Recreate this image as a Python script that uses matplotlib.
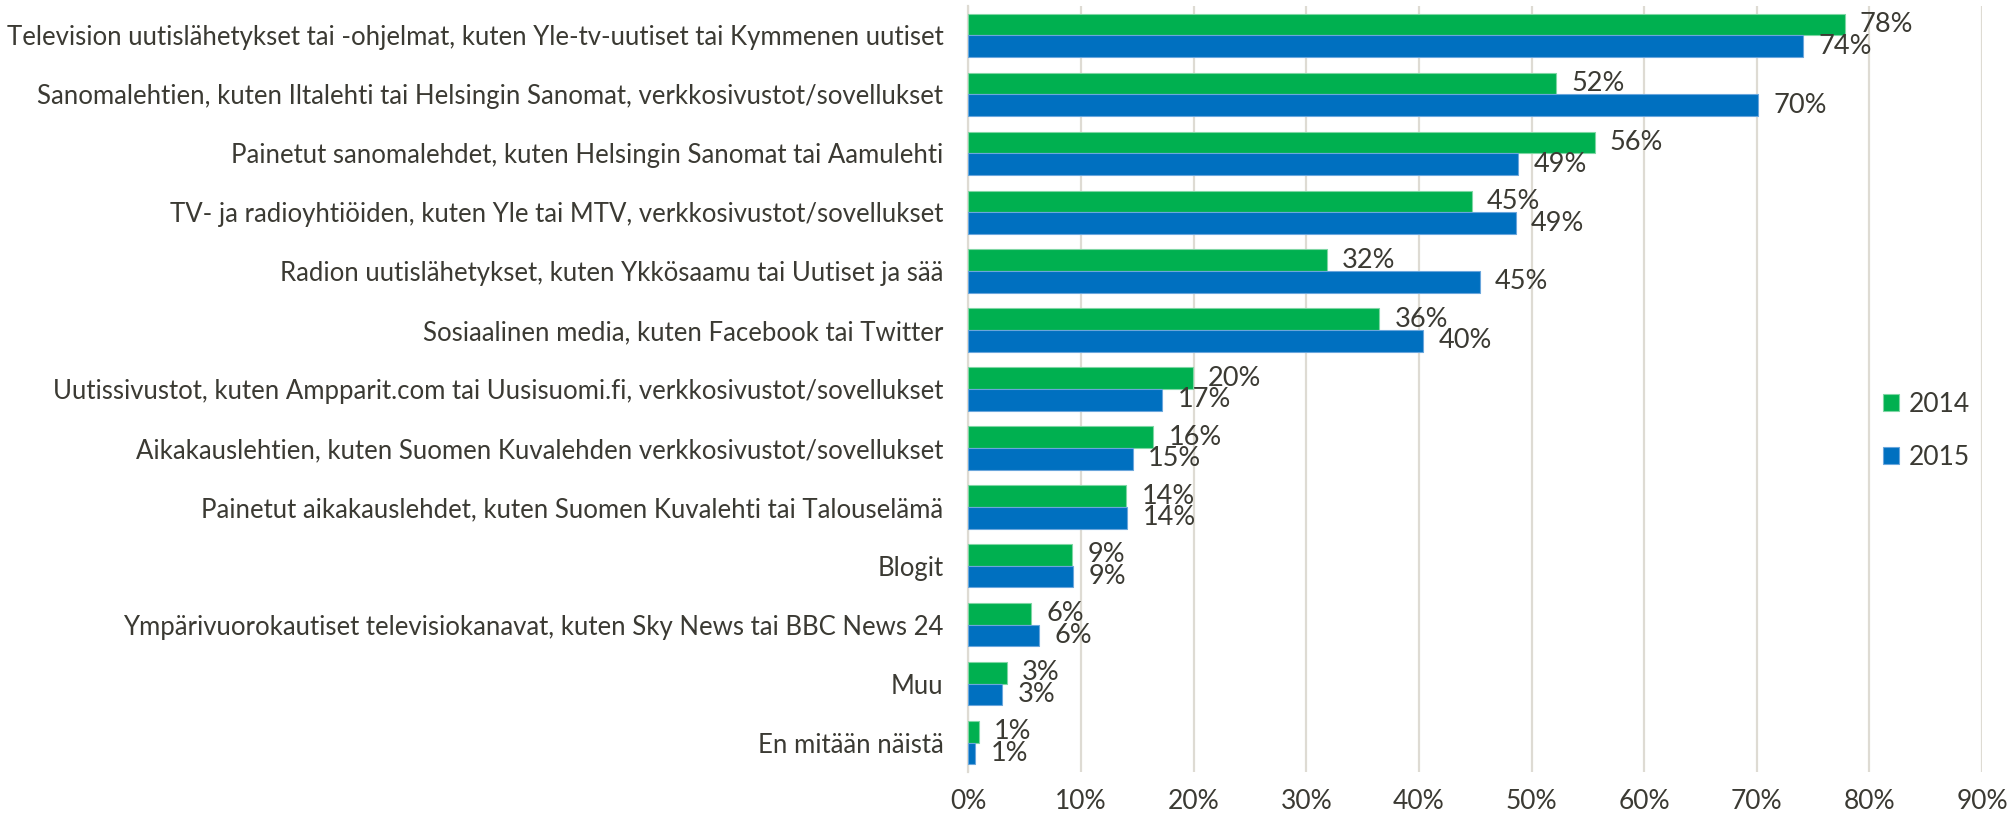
import matplotlib
matplotlib.use("Agg")
import matplotlib.pyplot as plt
import numpy as np

categories = [
    "Television uutislähetykset tai -ohjelmat, kuten Yle-tv-uutiset tai Kymmenen uutiset",
    "Sanomalehtien, kuten Iltalehti tai Helsingin Sanomat, verkkosivustot/sovellukset",
    "Painetut sanomalehdet, kuten Helsingin Sanomat tai Aamulehti",
    "TV- ja radioyhtiöiden, kuten Yle tai MTV, verkkosivustot/sovellukset",
    "Radion uutislähetykset, kuten Ykkösaamu tai Uutiset ja sää",
    "Sosiaalinen media, kuten Facebook tai Twitter",
    "Uutissivustot, kuten Ampparit.com tai Uusisuomi.fi, verkkosivustot/sovellukset",
    "Aikakauslehtien, kuten Suomen Kuvalehden verkkosivustot/sovellukset",
    "Painetut aikakauslehdet, kuten Suomen Kuvalehti tai Talouselämä",
    "Blogit",
    "Ympärivuorokautiset televisiokanavat, kuten Sky News tai BBC News 24",
    "Muu",
    "En mitään näistä",
]
series_names = ["2014", "2015"]
values_2014 = [77.8, 52.2, 55.6, 44.7, 31.8, 36.5, 19.9, 16.4, 14.0, 9.2, 5.6, 3.4, 0.9]
values_2015 = [74.1, 70.1, 48.8, 48.6, 45.4, 40.4, 17.2, 14.6, 14.1, 9.3, 6.3, 3.0, 0.6]
labels_2014 = ["78%", "52%", "56%", "45%", "32%", "36%", "20%", "16%", "14%", "9%", "6%", "3%", "1%"]
labels_2015 = ["74%", "70%", "49%", "49%", "45%", "40%", "17%", "15%", "14%", "9%", "6%", "3%", "1%"]
x_ticks = [0, 10, 20, 30, 40, 50, 60, 70, 80, 90]
x_tick_labels = ["0%", "10%", "20%", "30%", "40%", "50%", "60%", "70%", "80%", "90%"]

GREEN = "#00b050"
BLUE = "#0070c0"
TEXT = "#3b3a33"
GRID = "#dedbd3"

plt.rcParams["font.family"] = ["Lato", "DejaVu Sans"]

fig = plt.figure(figsize=(20.13, 8.18), dpi=100)
ax = fig.add_axes([968.4 / 2013, 1 - 772 / 818, (1982 - 968.4) / 2013, 766 / 818])

y = np.arange(len(categories))
h = 0.368
b1 = ax.barh(y - h / 2, values_2014, height=h, color=GREEN, edgecolor="#7fd6a4",
             linewidth=0.8, label=series_names[0], zorder=3)
b2 = ax.barh(y + h / 2, values_2015, height=h, color=BLUE, edgecolor="#6aa6dc",
             linewidth=0.8, label=series_names[1], zorder=3)

for bars, labs in ((b1, labels_2014), (b2, labels_2015)):
    for rect, lab in zip(bars, labs):
        ax.annotate(lab, (rect.get_width(), rect.get_y() + rect.get_height() / 2),
                    xytext=(11, 0), textcoords="offset points", ha="left", va="center",
                    fontsize=19.5, color=TEXT, zorder=4)

ax.set_xlim(0, 90)
ax.set_ylim(len(categories) - 0.5, -0.5)
ax.set_xticks(x_ticks)
ax.set_xticklabels(x_tick_labels)
ax.set_yticks(y)
ax.set_yticklabels(categories)
ax.tick_params(axis="x", length=0, pad=12, labelsize=19, labelcolor=TEXT)
ax.tick_params(axis="y", length=0, pad=18, labelsize=18.5, labelcolor=TEXT)
ax.grid(axis="x", color=GRID, linewidth=1.6, zorder=0)
ax.set_axisbelow(True)
for s in ("top", "right", "bottom"):
    ax.spines[s].set_visible(False)
ax.spines["left"].set_color(GRID)
ax.spines["left"].set_linewidth(1.6)

leg = ax.legend(loc="center left", bbox_to_anchor=(1878 / 2013, 1 - 431 / 818),
                bbox_transform=fig.transFigure, frameon=True, framealpha=1,
                edgecolor="none", facecolor="white", fontsize=19, labelcolor=TEXT,
                handlelength=0.6, handleheight=0.6, handletextpad=0.35,
                labelspacing=1.05, borderpad=0.2, borderaxespad=0)

fig.savefig("out.png", dpi=100, facecolor="white")
